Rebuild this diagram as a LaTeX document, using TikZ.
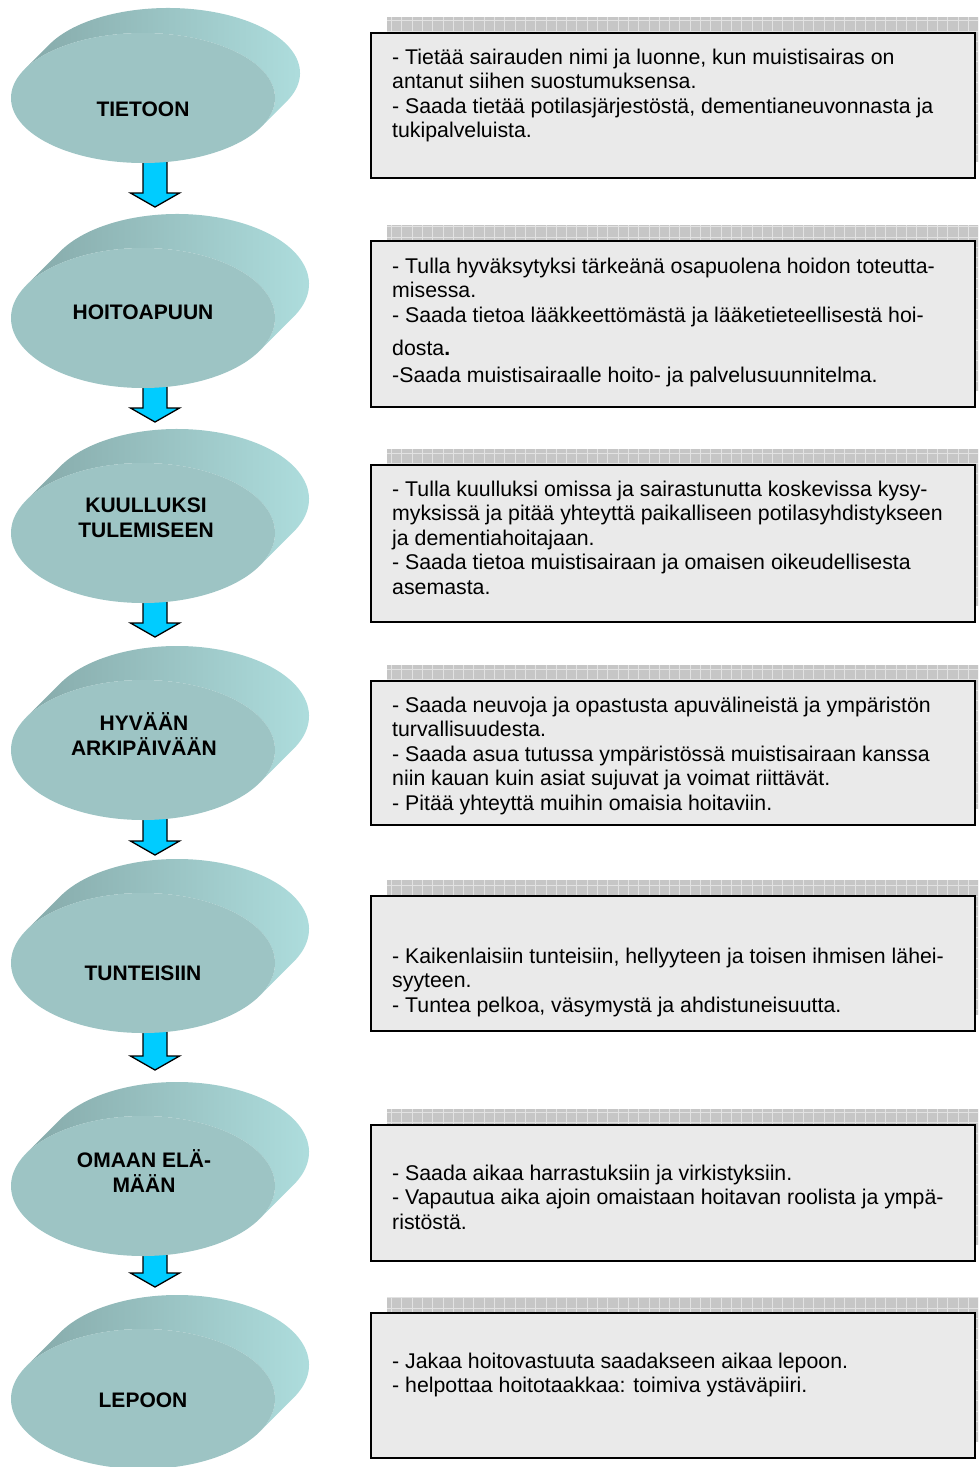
\documentclass[tikz,border=0pt]{standalone}
\usepackage{fontspec}
\setmainfont{Liberation Sans}
\usetikzlibrary{calc,shapes.geometric}
\pgfdeclarelayer{background}
\pgfsetlayers{background,main}

\definecolor{diskface}{RGB}{157,196,196}
\definecolor{sidedark}{RGB}{120,154,154}
\definecolor{sidemid}{RGB}{134,170,170}
\definecolor{sidelight}{RGB}{176,224,224}
\definecolor{arrowcyan}{RGB}{0,204,255}
\definecolor{boxfill}{RGB}{234,234,234}
\definecolor{gridfill}{RGB}{198,198,198}
\definecolor{gridline}{RGB}{226,226,226}

\tikzset{
  diskfront/.style={ellipse, fill=diskface, inner sep=0pt, outer sep=0pt, minimum width=264},
  diskside/.style={left color=sidemid, middle color=sidedark, right color=sidelight},
  disklabel/.style={inner sep=0pt, align=center, font=\fontsize{21}{25.5}\selectfont\bfseries},
  blockarrow/.style={draw=black, fill=arrowcyan, line width=1.3pt, line join=miter},
  notebox/.style={draw=black, fill=boxfill, line width=1.5pt},
  noteshadow/.style={fill=gridfill},
  notegrid/.style={draw=gridline, line width=0.7pt},
  notetext/.style={anchor=base west, inner sep=0pt}
}

% a raised disk: #1 name, #2 cx, #3 cy, #4 y radius, #5 depth
\newcommand\stagedisk[5]{%
  \pgfmathsetmacro\tang{atan(#4/132)}%
  \shade[diskside] ($(#2,#3)+({180+\tang}:132 and #4)$) -- ++(#5,-#5)
     arc[start angle={180+\tang}, end angle={360+\tang}, x radius=132, y radius=#4]
     -- ++(-#5,#5)
     arc[start angle={360+\tang}, end angle={180+\tang}, x radius=132, y radius=#4] -- cycle;
  \node[diskfront, minimum height={2*#4}] (#1) at (#2,#3) {};
}

% a note box with its gridded offset shadow: #1 top, #2 bottom
\newcommand\notepanel[2]{%
  \fill[noteshadow] (387,#1-16) rectangle (991,#2-16);
  \draw[notegrid, xstep=10.3pt, ystep=10.3pt] (387,#1-16) grid (991,#2-16);
  \draw[notebox] (371,#1) rectangle (975,#2);
}

\newcommand\notelines[1]{\vtop{\hsize=700pt\fontsize{21.3}{24.5}\selectfont
  \parindent=0pt\raggedright #1\par}}

\begin{document}
\begin{tikzpicture}[x=1pt, y=-1pt]
\useasboundingbox (0,0) rectangle (978,1467);
\clip (0,0) rectangle (978,1467);

% stages
\stagedisk{s1}{143}{98}{65}{25}
\stagedisk{s2}{143}{318}{70}{34}
\stagedisk{s3}{143}{533}{70}{34}
\stagedisk{s4}{143}{750}{70}{34}
\stagedisk{s5}{143}{963}{70}{34}
\stagedisk{s6}{143}{1186}{70}{34}
\stagedisk{s7}{143}{1399}{70}{34}

\node[disklabel] (l1) at (143,109) {TIETOON};
\node[disklabel] (l2) at (143,312) {HOITOAPUUN};
\node[disklabel] (l3) at (146,518) {KUULLUKSI\\TULEMISEEN};
\node[disklabel] (l4) at (144,734) {HYVÄÄN\\ARKIPÄIVÄÄN};
\node[disklabel] (l5) at (143,973) {TUNTEISIIN};
\node[disklabel] (l6) at (144,1171) {OMAAN ELÄ-\\MÄÄN};
\node[disklabel] (l7) at (143,1400) {LEPOON};

% arrow tips
\coordinate (t1) at (155,207);
\coordinate (t2) at (155,422);
\coordinate (t3) at (155,637);
\coordinate (t4) at (155,855);
\coordinate (t5) at (155,1070);
\coordinate (t6) at (155,1287);

\begin{pgfonlayer}{background}
\foreach \s/\t in {s1/t1, s2/t2, s3/t3, s4/t4, s5/t5, s6/t6}{
  \draw[blockarrow] let \p1=(\t), \p2=(\s.south) in
    (\x1,\y1) -- (\x1-24.5pt,\y1+14pt) -- (\x1-12pt,\y1+14pt)
    -- (\x1-12pt,\y2+8pt) -- (\x1+12pt,\y2+8pt)
    -- (\x1+12pt,\y1+14pt) -- (\x1+24.5pt,\y1+14pt) -- cycle;
}
\end{pgfonlayer}

% notes
\notepanel{33}{178}
\notepanel{241}{407}
\notepanel{465}{622}
\notepanel{681}{825}
\notepanel{896}{1031}
\notepanel{1125}{1261}
\notepanel{1313}{1458}

\node[notetext] (n1) at (392,64) {\notelines{%
- Tietää sairauden nimi ja luonne, kun muistisairas on\\
antanut siihen suostumuksensa.\\
- Saada tietää potilasjärjestöstä, dementianeuvonnasta ja\\
tukipalveluista.}};

\node[notetext] (n2) at (392,273) {\notelines{%
- Tulla hyväksytyksi tärkeänä osapuolena hoidon toteutta-\\
misessa.\\
- Saada tietoa lääkkeettömästä ja lääketieteellisestä hoi-\\[9pt]
dosta{\bfseries .}\\[2pt]
-Saada muistisairaalle hoito- ja palvelusuunnitelma.}};

\node[notetext] (n3) at (392,496) {\notelines{%
- Tulla kuulluksi omissa ja sairastunutta koskevissa kysy-\\
myksissä ja pitää yhteyttä paikalliseen potilasyhdistykseen\\
ja dementiahoitajaan.\\
- Saada tietoa muistisairaan ja omaisen oikeudellisesta\\
asemasta.}};

\node[notetext] (n4) at (392,712) {\notelines{%
- Saada neuvoja ja opastusta apuvälineistä ja ympäristön\\
turvallisuudesta.\\
- Saada asua tutussa ympäristössä muistisairaan kanssa\\
niin kauan kuin asiat sujuvat ja voimat riittävät.\\
- Pitää yhteyttä muihin omaisia hoitaviin.}};

\node[notetext] (n5) at (392,963) {\notelines{%
- Kaikenlaisiin tunteisiin, hellyyteen ja toisen ihmisen lähei-\\
syyteen.\\
- Tuntea pelkoa, väsymystä ja ahdistuneisuutta.}};

\node[notetext] (n6) at (392,1180) {\notelines{%
- Saada aikaa harrastuksiin ja virkistyksiin.\\
- Vapautua aika ajoin omaistaan hoitavan roolista ja ympä-\\
ristöstä.}};

\node[notetext] (n7) at (392,1368) {\notelines{%
- Jakaa hoitovastuuta saadakseen aikaa lepoon.\\
- helpottaa hoitotaakkaa: toimiva ystäväpiiri.}};
\end{tikzpicture}
\end{document}
